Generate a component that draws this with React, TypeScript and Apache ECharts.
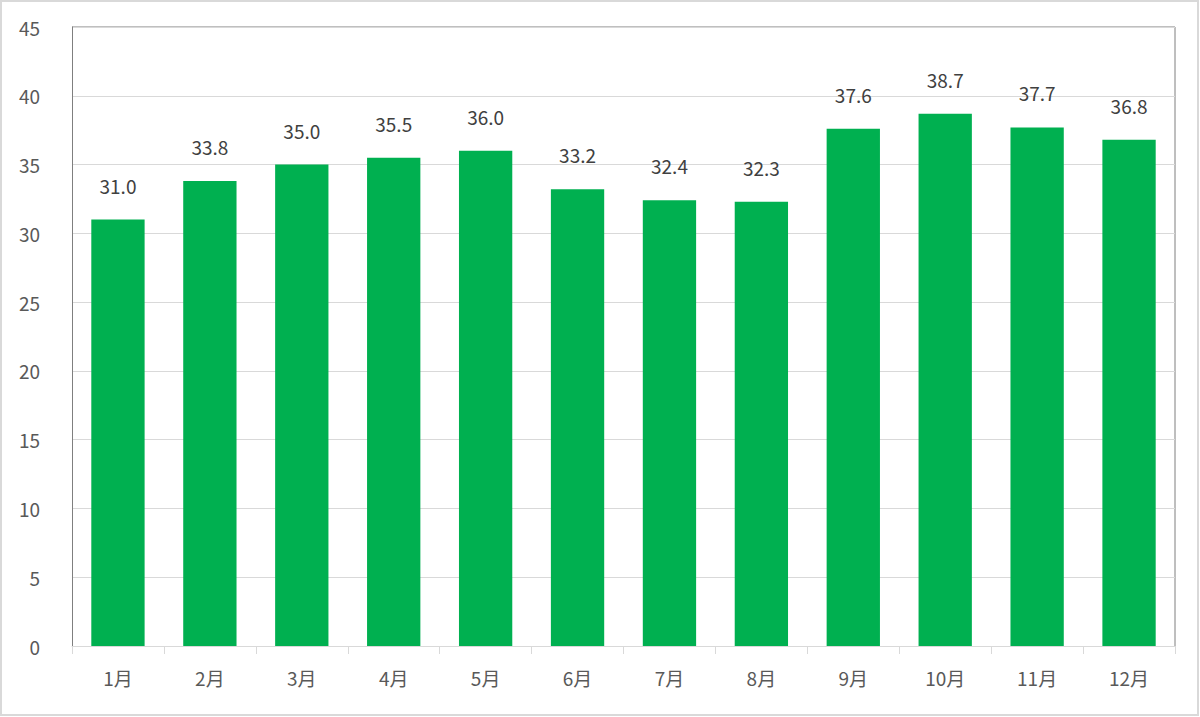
import React, { useEffect, useRef } from "react";
import * as echarts from "echarts";

const categories = ["1月", "2月", "3月", "4月", "5月", "6月", "7月", "8月", "9月", "10月", "11月", "12月"];
const values = [31.0, 33.8, 35.0, 35.5, 36.0, 33.2, 32.4, 32.3, 37.6, 38.7, 37.7, 36.8];
const yMin = 0;
const yMax = 45;
const yInterval = 5;

const FONT = "'Noto Sans CJK JP', 'Noto Sans', sans-serif";

export default function App() {
  const ref = useRef<HTMLDivElement>(null);
  useEffect(() => {
    if (!ref.current) return;
    const chart = echarts.init(ref.current, null, { renderer: "svg" });
    const gl = 72, gt = 27, gr = 25, gb = 71;
    chart.setOption({
      animation: false,
      backgroundColor: "#ffffff",
      grid: { left: gl, top: gt, right: gr, bottom: gb, containLabel: false },
      xAxis: {
        type: "category",
        data: categories,
        boundaryGap: true,
        axisLine: { show: true, lineStyle: { color: "#d9d9d9", width: 1 } },
        axisTick: { show: true, alignWithLabel: false, length: 8, lineStyle: { color: "#d9d9d9" } },
        axisLabel: { color: "#595959", fontSize: 19, fontFamily: FONT, margin: 22 },
      },
      yAxis: {
        type: "value",
        min: yMin,
        max: yMax,
        interval: yInterval,
        axisLine: { show: true, lineStyle: { color: "#7f7f7f", width: 1 } },
        axisTick: { show: false },
        splitLine: { show: true, lineStyle: { color: "#d9d9d9", width: 1 } },
        axisLabel: { color: "#595959", fontSize: 19, fontFamily: FONT, margin: 32 },
      },
      series: [
        {
          type: "bar",
          data: values,
          barWidth: "58%",
          itemStyle: { color: "#00b050" },
          label: {
            show: true,
            position: "top",
            distance: 25,
            color: "#404040",
            fontSize: 19,
            fontFamily: FONT,
            formatter: (p: any) => Number(p.value).toFixed(1),
          },
        },
      ],
      graphic: [
        {
          type: "rect",
          shape: { x: 1, y: 1, width: 1197, height: 714 },
          style: { fill: "none", stroke: "#d9d9d9", lineWidth: 2 },
          silent: true,
        },
        {
          type: "polyline",
          shape: { points: [[gl, gt], [1200 - gr, gt], [1200 - gr, 717 - gb]] },
          style: { fill: "none", stroke: "#7f7f7f", lineWidth: 1 },
          silent: true,
        },
      ],
    });
    return () => chart.dispose();
  }, []);
  return (
    <div
      ref={ref}
      style={{ position: "absolute", left: 0, top: 0, width: 1200, height: 717, background: "#fff" }}
    />
  );
}
